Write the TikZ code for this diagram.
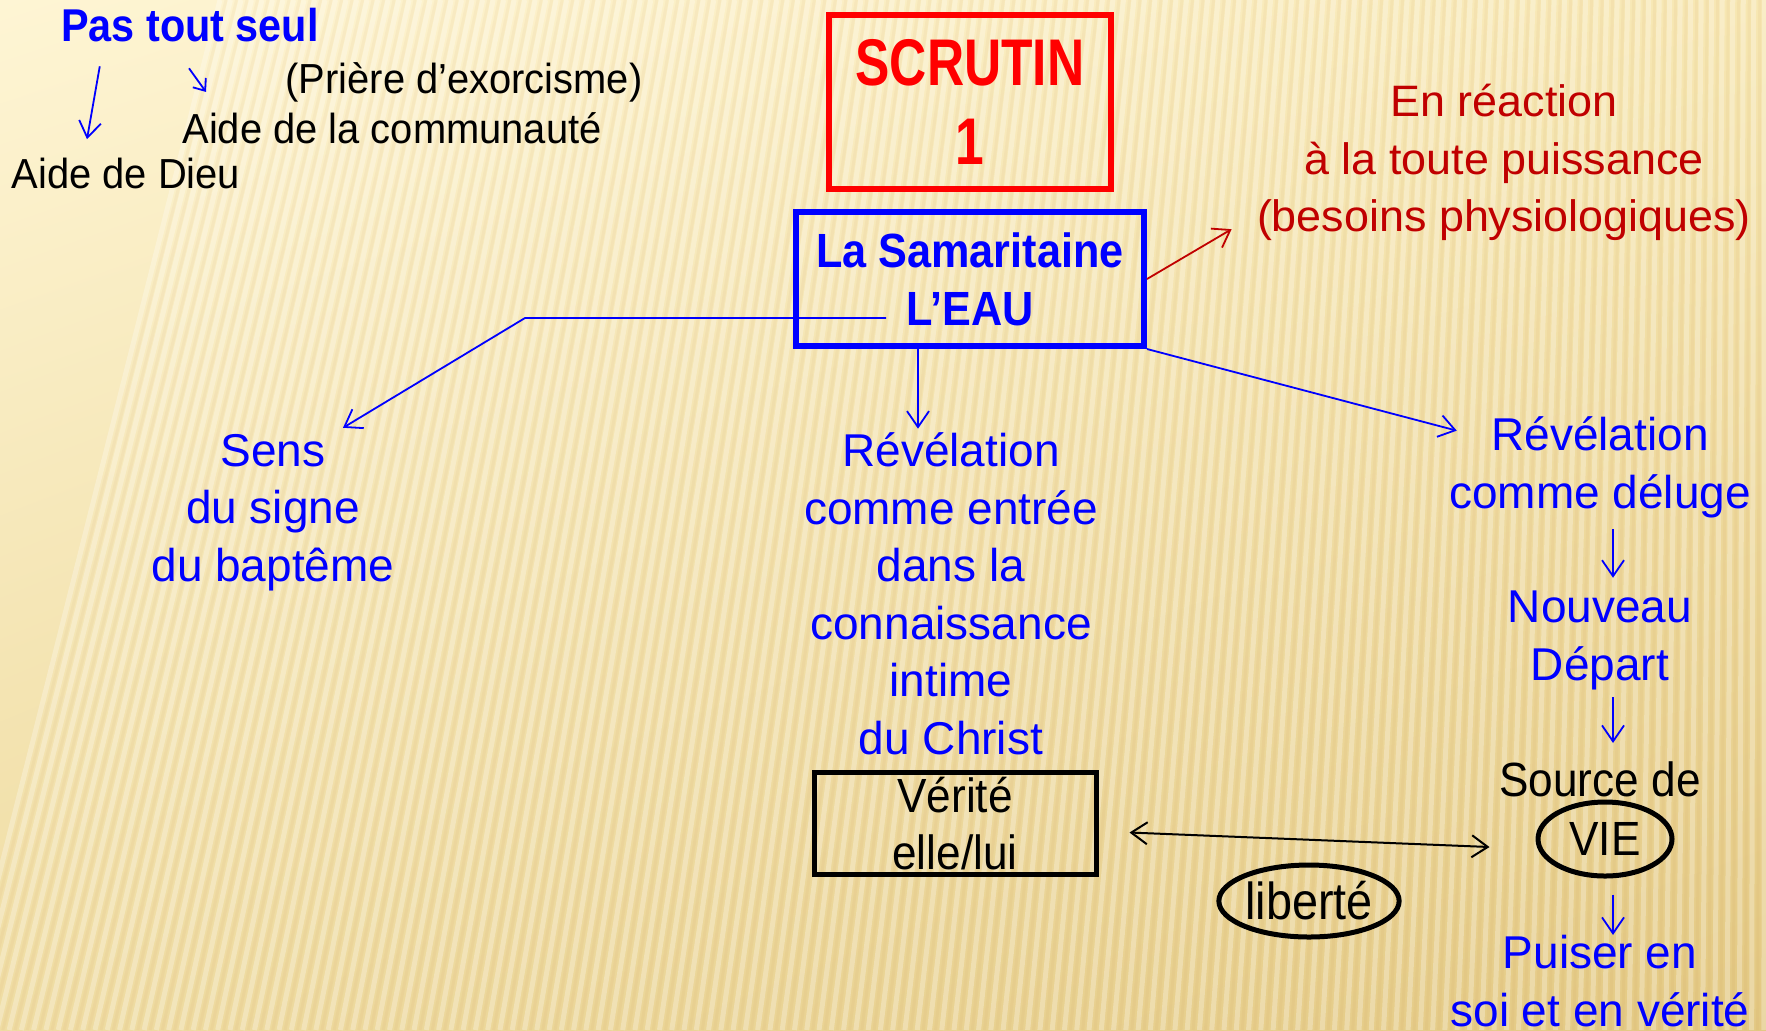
\documentclass[tikz,border=0pt]{standalone}
\usepackage{fontspec}
\setmainfont{Liberation Sans}
\newfontfamily\fbook{Liberation Sans}
\newfontfamily\fred{Liberation Sans}[FakeStretch=1.02]
\newfontfamily\fA{Liberation Sans}[FakeStretch=0.95]
\newfontfamily\fB{Liberation Sans}[FakeStretch=0.92]
\newfontfamily\fbold{Liberation Sans}[FakeStretch=0.9]
\newfontfamily\fscr{Liberation Sans}[FakeStretch=0.78]
\usetikzlibrary{arrows.meta,calc,shapes.geometric,shadings}
\definecolor{pblue}{RGB}{0,0,255}
\definecolor{pred}{RGB}{255,0,0}
\definecolor{dred}{RGB}{192,0,0}
\definecolor{bgA}{HTML}{FEF5D4}
\definecolor{bgB}{HTML}{F7E7B2}
\definecolor{bgC}{HTML}{EFDCA2}
\definecolor{bgD}{HTML}{E3C882}
\tikzset{
  txt/.style={inner sep=0pt, align=center},
  btxt/.style={txt, text=pblue, font=\fbook\fontsize{23}{28.75}\selectfont},
  ktxt/.style={txt, text=black, font=\fA\fontsize{21}{28.5}\selectfont},
  ltxt/.style={txt, text=black, font=\fB\fontsize{24}{28.5}\selectfont},
  barr/.style={draw=pblue, line width=0.9pt, -{Straight Barb[length=8pt,width=11pt]}},
  karr/.style={draw=black, line width=1pt, {Straight Barb[length=8pt,width=11pt]}-{Straight Barb[length=8pt,width=11pt]}},
  rarr/.style={draw=dred, line width=0.9pt, -{Straight Barb[length=8pt,width=11pt]}},
}
\begin{document}
\begin{tikzpicture}[x=0.5pt,y=-0.5pt]
\useasboundingbox (0,0) rectangle (1766,1030);
% background
\begin{scope}
\clip (0,0) rectangle (1766,1030);
\shade[upper left=bgA, upper right=bgB, lower left=bgC, lower right=bgD] (0,0) rectangle (1766,1030);
\foreach \i in {0,...,150}{
  \draw[white, opacity=0.28, line width=2.5pt] ({\i*12+220*(1-\i*12/1766)},0) -- ({\i*12-40*(1-\i*12/1766)},1030);
  \draw[brown, opacity=0.06, line width=1.5pt] ({\i*12+6+220*(1-\i*12/1766)},0) -- ({\i*12+6-40*(1-\i*12/1766)},1030);
}
\end{scope}

% top left
\node[txt, text=pblue, font=\fbold\bfseries\fontsize{23}{27}\selectfont] (pas) at (190,25) {Pas tout seul};
\node[ktxt] (priere) at (464,82) {(Prière d’exorcisme)};
\node[ktxt] (commu) at (392,128) {Aide de la communauté};
\node[ktxt] (dieu) at (126,173) {Aide de Dieu};
\draw[barr] ($(pas.south west)+(39,24)$) -- ($(dieu.north)+(-39,-18)$);
\draw[barr, -{Straight Barb[length=5pt,width=8pt]}] ($(pas.south)+(-1,26)$) -- ($(commu.north)+(-186,-20)$);

% boxes
\node[draw=pred, line width=3pt, minimum width=141pt, minimum height=87pt, inner sep=0pt, align=center,
      text=pred, font=\fscr\bfseries\fontsize{33}{39.5}\selectfont] (scr) at (970,101.5) {SCRUTIN\\1};
\node[draw=pblue, line width=3pt, minimum width=174pt, minimum height=67pt, inner sep=0pt, align=center,
      text=pblue, font=\fbold\bfseries\fontsize{24}{29}\selectfont] (sam) at (970,279) {La Samaritaine\\L’EAU};

\node[txt, text=dred, font=\fred\fontsize{22}{28.75}\selectfont] (reac) at (1504,162.5) {En réaction\\à la toute puissance\\(besoins physiologiques)};

\node[btxt] (sens) at (273,512.5) {Sens\\du signe\\du baptême};
\node[btxt] (rev1) at (951,594) {Révélation\\comme entrée\\dans la\\connaissance\\intime\\du Christ};

\node[ltxt, draw=black, line width=2.5pt, minimum width=141pt, minimum height=51pt] (ver) at (955,823.5) {Vérité\\elle/lui};

\node[btxt] (rev2) at (1600,467.5) {Révélation\\comme déluge};
\node[btxt] (nouv) at (1600,640.5) {Nouveau\\Départ};
\node[ltxt] (source) at (1600,779) {Source de};
\node[ltxt, ellipse, draw=black, line width=2.5pt, minimum width=67pt, minimum height=37pt] (vie) at (1605,839) {VIE};
\node[btxt] (puis) at (1600,981) {Puiser en\\soi et en vérité};
\node[ltxt, ellipse, draw=black, line width=2.5pt, minimum width=90pt, minimum height=36pt, font=\fbold\fontsize{26}{28}\selectfont] (lib) at (1309,901) {liberté};

% connectors
\coordinate (eauL) at ($(sam.center)+(-84,39)$);
\coordinate (bendL) at (525,318);
\draw[barr] (eauL) -- (bendL) -- ($(sens.north)+(70,-6)$);
\draw[barr] ($(sam.south)+(-52,0)$) -- ($(rev1.north)+(-33,-4)$);
\draw[barr] (sam.south east) -- ($(rev2.north west)+(8,14)$);
\draw[rarr] (sam.east) -- ($(reac.south west)+(-25,-12)$);
\draw[karr] ($(ver.east)+(31,9)$) -- ($(vie.west)+(-46,8)$);
\draw[barr, shorten <=5.5pt, shorten >=6.5pt] ($(rev2.south)+(13,0)$) -- ($(nouv.north)+(13,0)$);
\draw[barr, shorten <=3.5pt, shorten >=9pt] ($(nouv.south)+(13,0)$) -- ($(source.north)+(13,0)$);
\draw[barr, shorten <=8pt, shorten >=0pt] ($(vie.south)+(8,0)$) -- ($(puis.north)+(13,0)$);
\end{tikzpicture}
\end{document}
